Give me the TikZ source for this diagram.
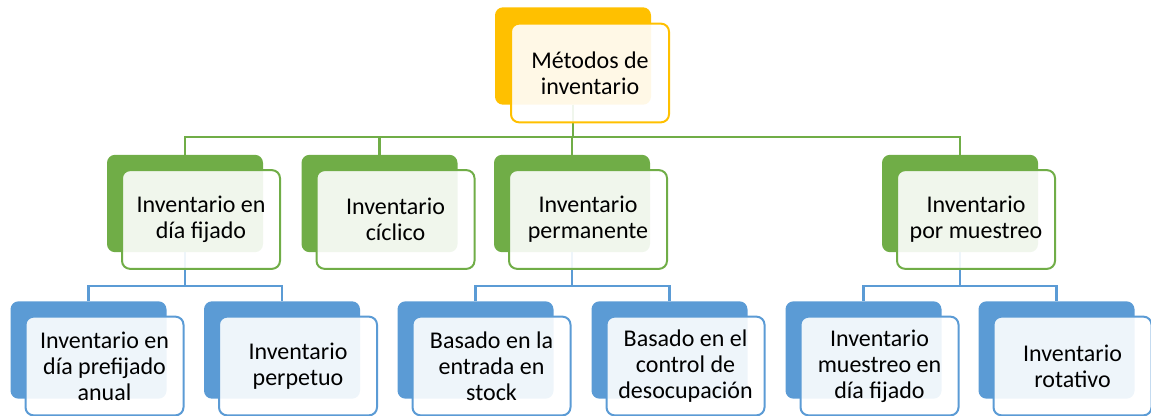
\documentclass[tikz,border=0pt]{standalone}
\usepackage{fontspec}
\setmainfont{Carlito}
\definecolor{cgold}{HTML}{FFC000}
\definecolor{cgreen}{HTML}{70AD47}
\definecolor{cblue}{HTML}{5B9BD5}
\begin{document}
\begin{tikzpicture}[x=0.75pt,y=-0.75pt,
  backbox/.style={rounded corners=6pt, minimum width=117pt, minimum height=73pt, inner sep=0pt},
  frontbox/.style={draw, line width=1.5pt, rounded corners=6pt, fill=white, fill opacity=0.9, text opacity=1,
    minimum width=118.5pt, minimum height=74pt, inner sep=0pt, align=center,
    font=\fontsize{18}{19.6}\selectfont},
  gline/.style={draw=cgreen, line width=1.6pt},
  bline/.style={draw=cblue, line width=1.6pt}]
\useasboundingbox (0,0) rectangle (1151,416);

% back boxes
\node[backbox, fill=cgold] (rootb) at (573,56) {};
\node[backbox, fill=cgreen] (g1b) at (185,203.5) {};
\node[backbox, fill=cgreen] (g2b) at (379.5,203.5) {};
\node[backbox, fill=cgreen] (g3b) at (572,203.5) {};
\node[backbox, fill=cgreen] (g4b) at (960,203.5) {};
\node[backbox, fill=cblue] (b1b) at (88.5,350) {};
\node[backbox, fill=cblue] (b2b) at (282,350) {};
\node[backbox, fill=cblue] (b3b) at (475.5,350) {};
\node[backbox, fill=cblue] (b4b) at (669.5,350) {};
\node[backbox, fill=cblue] (b5b) at (863.5,350) {};
\node[backbox, fill=cblue] (b6b) at (1056.5,350) {};

% connectors
\foreach \c in {g1b,g2b,g3b,g4b}
  \draw[gline] (rootb.south) -- ++(0,32) -| (\c.north);
\foreach \c in {b1b,b2b}
  \draw[bline] (g1b.south) -- ++(0,33.5) -| (\c.north);
\foreach \c in {b3b,b4b}
  \draw[bline] (g3b.south) -- ++(0,33.5) -| (\c.north);
\foreach \c in {b5b,b6b}
  \draw[bline] (g4b.south) -- ++(0,33.5) -| (\c.north);

% front boxes
\node[frontbox, draw=cgold] (rootf) at ([shift={(17,17)}]rootb.center) {Métodos de\\inventario};
\node[frontbox, draw=cgreen] (g1f) at ([shift={(16,16)}]g1b.center) {Inventario en\\día fijado};
\node[frontbox, draw=cgreen] (g2f) at ([shift={(16,16)}]g2b.center) {Inventario\\cíclico};
\node[frontbox, draw=cgreen] (g3f) at ([shift={(16,16)}]g3b.center) {Inventario\\permanente};
\node[frontbox, draw=cgreen] (g4f) at ([shift={(16,16)}]g4b.center) {Inventario\\por muestreo};
\node[frontbox, draw=cblue] (b1f) at ([shift={(16,16)}]b1b.center) {Inventario en\\día prefijado\\anual};
\node[frontbox, draw=cblue] (b2f) at ([shift={(16,16)}]b2b.center) {Inventario\\perpetuo};
\node[frontbox, draw=cblue] (b3f) at ([shift={(16,16)}]b3b.center) {Basado en la\\entrada en\\stock};
\node[frontbox, draw=cblue] (b4f) at ([shift={(16,16)}]b4b.center) {Basado en el\\control de\\desocupación};
\node[frontbox, draw=cblue] (b5f) at ([shift={(16,16)}]b5b.center) {Inventario\\muestreo en\\día fijado};
\node[frontbox, draw=cblue] (b6f) at ([shift={(16,16)}]b6b.center) {Inventario\\rotativo};
\end{tikzpicture}
\end{document}
